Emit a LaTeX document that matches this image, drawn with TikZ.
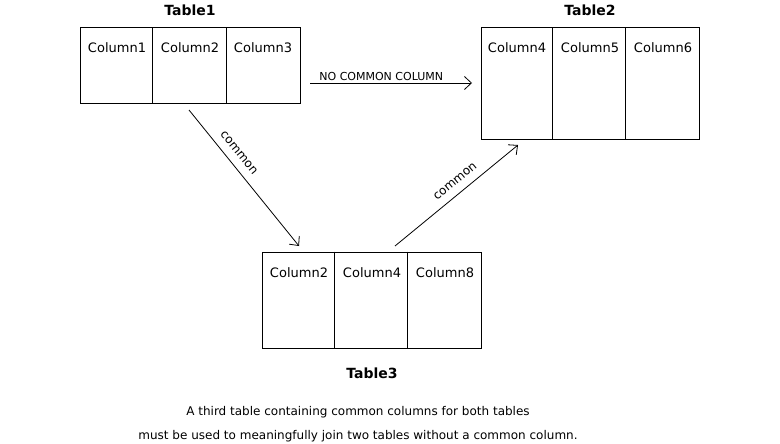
\documentclass[tikz,border=0pt]{standalone}
\usepackage{fontspec}
\setmainfont{DejaVu Sans}
\usetikzlibrary{arrows.meta}
\begin{document}
\begin{tikzpicture}[x=1pt,y=-1pt,line width=1pt,
  tbl/.style={draw,rectangle,inner sep=0pt},
  col/.style={font=\fontsize{13}{15}\selectfont,inner sep=0pt},
  ttl/.style={font=\fontsize{14}{16}\bfseries\selectfont,inner sep=0pt},
  lbl/.style={font=\fontsize{12}{14}\selectfont,inner sep=2pt},
  captxt/.style={font=\fontsize{12}{14}\selectfont,inner sep=0pt},
  arr/.style={line width=0.8pt,-{Straight Barb[length=7pt,width=13pt]}}]
\useasboundingbox (0,0) rectangle (780,444);
% Table1
\node[tbl,minimum width=220pt,minimum height=76pt] (t1) at (190,66) {};
\draw (t1.north west) ++(73,0) -- ++(0,76);
\draw (t1.north west) ++(147,0) -- ++(0,76);
\node[col] (c1) at (117,48) {Column1};
\node[col] (c2) at (190,48) {Column2};
\node[col] (c3) at (263,48) {Column3};
\node[ttl] (n1) at (190,10) {Table1};
% Table2
\node[tbl,minimum width=218pt,minimum height=111pt] (t2) at (590,83.5) {};
\draw (t2.north west) ++(72,0) -- ++(0,111);
\draw (t2.north west) ++(145,0) -- ++(0,111);
\node[col] (c4) at (517,48) {Column4};
\node[col] (c5) at (590,48) {Column5};
\node[col] (c6) at (663,48) {Column6};
\node[ttl] (n2) at (590,10) {Table2};
% Table3
\node[tbl,minimum width=219pt,minimum height=96pt] (t3) at (371.5,300) {};
\draw (t3.north west) ++(73,0) -- ++(0,96);
\draw (t3.north west) ++(146,0) -- ++(0,96);
\node[col] (c7) at (299,273) {Column2};
\node[col] (c8) at (372,273) {Column4};
\node[col] (c9) at (445,273) {Column8};
\node[ttl] (n3) at (372,373) {Table3};
% connectors
\coordinate (a1s) at (310,83);
\coordinate (a1e) at (472,83);
\coordinate (a2s) at (189,110);
\coordinate (a2e) at (299,246);
\coordinate (a3s) at (395,246);
\coordinate (a3e) at (518,145);
\draw[arr] (a1s) -- node[lbl,above,pos=0.44,font=\fontsize{11}{13}\selectfont] {NO COMMON COLUMN} (a1e);
\draw[arr] (a2s) -- node[lbl,sloped,above=6pt,pos=0.37] {common} (a2e);
\draw[arr] (a3s) -- node[lbl,sloped,above=6pt,pos=0.55] {common} (a3e);
% caption
\node[captxt] (l1) at (358,412) {A third table containing common columns for both tables};
\node[captxt] (l2) at (358,436) {must be used to meaningfully join two tables without a common column.};
\end{tikzpicture}
\end{document}
